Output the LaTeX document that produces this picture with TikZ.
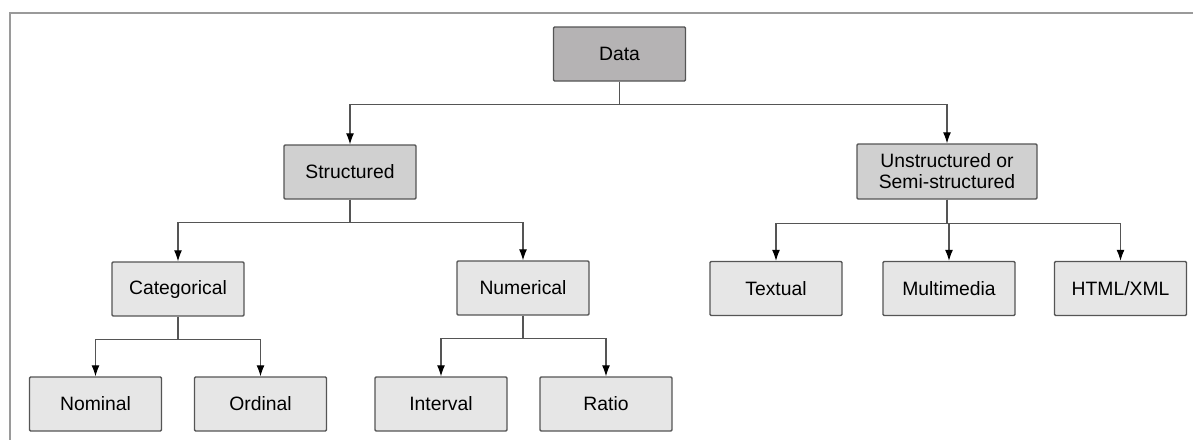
\documentclass[tikz,border=0pt]{standalone}
\usepackage{fontspec}
\setmainfont{Liberation Sans}
\usepackage{tikz}
\usetikzlibrary{positioning,arrows.meta}

\definecolor{rootfill}{HTML}{B5B3B4}
\definecolor{midfill}{HTML}{D0D0D0}
\definecolor{leaffill}{HTML}{E6E6E6}
\definecolor{edgecol}{HTML}{555555}
\definecolor{framecol}{HTML}{9A9A9A}

\begin{document}
\begin{tikzpicture}[
box/.style={
	draw=edgecol,
	line width=0.8pt,
	rounded corners=0.6pt,
	minimum width=2.64cm,
	minimum height=1.08cm,
	inner sep=2pt,
	align=center,
	font=\fontsize{11}{12}\selectfont
},
root/.style={box, fill=rootfill},
mid/.style={box, fill=midfill},
leaf/.style={box, fill=leaffill},
link/.style={draw=edgecol, line width=0.6pt,
	-{Latex[length=2.2mm,width=1.6mm,fill=black,color=black]}}
]

\useasboundingbox (0,0) rectangle (23.86,-8.8);
\draw[framecol, line width=1.2pt] (0.2,-8.8) -- (0.2,-0.26) -- (23.86,-0.26);

\node[root] at (12.39,-1.08)
(data) {Data};

\node[mid] at (7.0,-3.44)
(struc) {Structured};
\node[mid, minimum width=3.6cm, minimum height=1.1cm] at (18.94,-3.43)
(unstruc) {Unstructured or\\Semi-structured};

\node[leaf] at (3.56,-5.78)
(cat) {Categorical};
\node[leaf] at (10.46,-5.76)
(num) {Numerical};
\node[leaf] at (15.52,-5.77)
(txt) {Textual};
\node[leaf] at (18.98,-5.77)
(mm) {Multimedia};
\node[leaf] at (22.41,-5.77)
(html) {HTML/XML};

\node[leaf] at (1.91,-8.08)
(nom) {Nominal};
\node[leaf] at (5.21,-8.08)
(ord) {Ordinal};
\node[leaf] at (8.82,-8.08)
(intv) {Interval};
\node[leaf] at (12.12,-8.08)
(ratio) {Ratio};

\draw[link] (data.south) -- ++(0,-0.46) -| (struc.north);
\draw[link] (data.south) -- ++(0,-0.46) -| (unstruc.north);

\draw[link] (struc.south) -- ++(0,-0.46) -| (cat.north);
\draw[link] (struc.south) -- ++(0,-0.46) -| (num.north);

\draw[link] (unstruc.south) -- ++(0,-0.47) -| (txt.north);
\draw[link] (unstruc.south) -- ++(0,-0.47) -| (mm.north);
\draw[link] (unstruc.south) -- ++(0,-0.47) -| (html.north);

\draw[link] (cat.south) -- ++(0,-0.46) -| (nom.north);
\draw[link] (cat.south) -- ++(0,-0.46) -| (ord.north);

\draw[link] (num.south) -- ++(0,-0.46) -| (intv.north);
\draw[link] (num.south) -- ++(0,-0.46) -| (ratio.north);

\end{tikzpicture}
\end{document}
